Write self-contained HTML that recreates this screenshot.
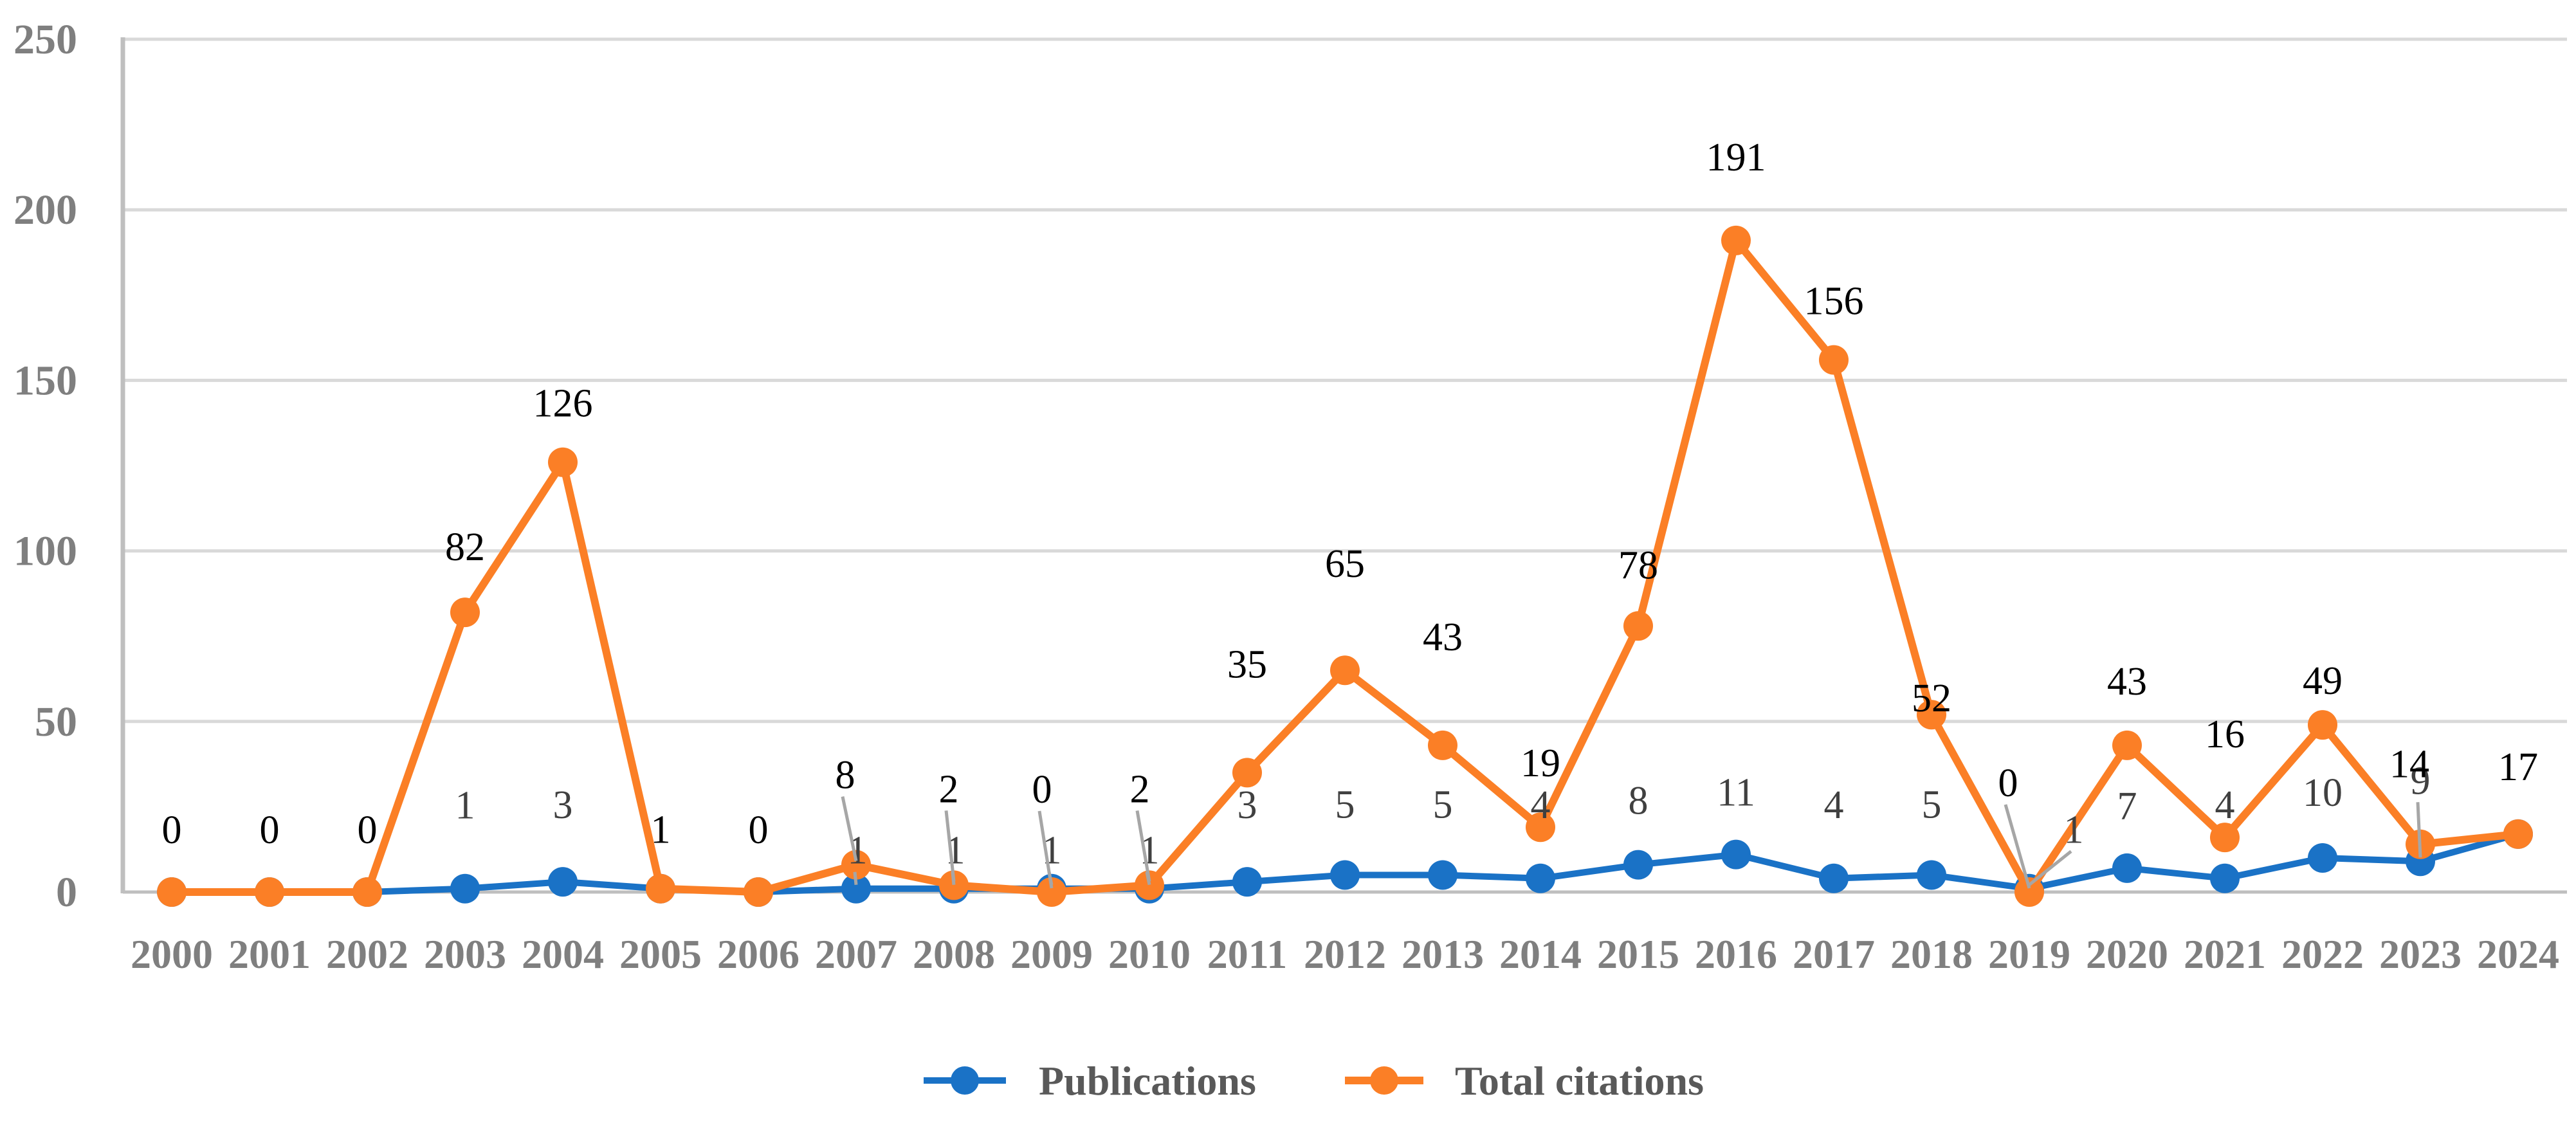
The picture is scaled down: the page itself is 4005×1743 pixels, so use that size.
<!DOCTYPE html>
<html><head><meta charset="utf-8"><style>
html,body{margin:0;padding:0;background:#fff;}
svg{display:block;}
</style></head><body>
<svg id="chart" width="4005" height="1743" viewBox="0 0 4005 1743" xmlns="http://www.w3.org/2000/svg">
<g id="grid"></g>
<g id="yaxis"></g>
<g id="xaxis"></g>
<g id="series"></g>
<g id="labels"></g>
<g id="legend">
  <g>
    <line x1="1436" y1="1680" x2="1564" y2="1680" stroke="#1A72C6" stroke-width="10"/>
    <circle cx="1500" cy="1680" r="22" fill="#1A72C6"/>
    <text x="1615" y="1702" font-family="Liberation Serif, serif" font-weight="bold" font-size="64" fill="#595959">Publications</text>
  </g>
  <g>
    <line x1="2091" y1="1680" x2="2213" y2="1680" stroke="#FB7F26" stroke-width="12"/>
    <circle cx="2152" cy="1680" r="22" fill="#FB7F26"/>
    <text x="2262" y="1702" font-family="Liberation Serif, serif" font-weight="bold" font-size="64" fill="#595959">Total citations</text>
  </g>
</g>
</svg>
<script>
const years = ['2000','2001','2002','2003','2004','2005','2006','2007','2008','2009','2010','2011','2012','2013','2014','2015','2016','2017','2018','2019','2020','2021','2022','2023','2024'];
const publications = [0,0,0,1,3,1,0,1,1,1,1,3,5,5,4,8,11,4,5,1,7,4,10,9,17];
const citations = [0,0,0,82,126,1,0,8,2,0,2,35,65,43,19,78,191,156,52,0,43,16,49,14,17];
const yTicks = [0,50,100,150,200,250];

// label layout offsets (px) relative to each point
const citDx = [0,0,0,0,0,0,0,-17,-8,-15,-15,0,0,0,0,0,0,0,0,-33,0,0,0,-17,0];
const citDy = [-97,-97,-97,-102,-92,-92,-97,-140,-150,-160,-150,-169,-166,-169,-100,-95,-130,-92,-26,-170,-100,-161,-69,-125,-105];
const pubDx = [0,0,0,0,0,0,0,2,2,0,0,0,0,0,0,0,0,0,0,69,0,0,0,0,0];
const pubDy = [null,null,null,-130,-120,-92,null,-60,-60,-60,-60,-120,-110,-110,-115,-100,-97,-115,-110,-92,-97,-115,-102,-126,-105];
const pubLeader = [7,8,9,10,19,23];
const citLeader = [7,8,9,10,19];

const NS='http://www.w3.org/2000/svg';
const X0=267, STEP=152, Y0=1387, YTOP=61, YMAX=250, LEFT=191, RIGHT=3991;
function xs(i){return X0+STEP*i;}
function ys(v){return Y0-(Y0-YTOP)*v/YMAX;}
function mk(tag,attrs,parent){const e=document.createElementNS(NS,tag);for(const k in attrs)e.setAttribute(k,attrs[k]);parent.appendChild(e);return e;}

const grid=document.getElementById('grid');
const yaxis=document.getElementById('yaxis');
yTicks.forEach(t=>{
  if(t>0){const l=mk('line',{x1:LEFT,x2:RIGHT,y1:ys(t),y2:ys(t),stroke:'#d9d9d9','stroke-width':5},grid);
  
  }
  const tx=mk('text',{x:120,y:ys(t)+22,'text-anchor':'end','font-family':'Liberation Serif, serif','font-weight':'bold','font-size':66,fill:'#7f7f7f'},yaxis);
  tx.textContent=t;
  
  
});
const axl=mk('line',{x1:LEFT,x2:LEFT,y1:YTOP-3,y2:Y0+2,stroke:'#bfbfbf','stroke-width':7},yaxis);


const xaxis=document.getElementById('xaxis');
const axb=mk('line',{x1:LEFT,x2:RIGHT,y1:Y0,y2:Y0,stroke:'#bfbfbf','stroke-width':5},xaxis);


years.forEach((y,i)=>{
  const t=mk('text',{x:xs(i),y:1505,'text-anchor':'middle','font-family':'Liberation Serif, serif','font-weight':'bold','font-size':64,fill:'#7f7f7f'},xaxis);
  t.textContent=y;
  
  
});

const series=document.getElementById('series');
function drawSeries(vals,color,w,name){
  const g=mk('g',{},series);
  
  
  const pts=vals.map((v,i)=>xs(i)+','+ys(v)).join(' ');
  const pl=mk('polyline',{points:pts,fill:'none',stroke:color,'stroke-width':w,'stroke-linejoin':'round'},g);
  
  
  vals.forEach((v,i)=>{
    const c=mk('circle',{cx:xs(i),cy:ys(v),r:23,fill:color},g);
    
    
  });
}
drawSeries(publications,'#1A72C6',10,'publications');
drawSeries(citations,'#FB7F26',12,'citations');

const labels=document.getElementById('labels');
function label(vals,dx,dy,color,leaders,name){
  vals.forEach((v,i)=>{
    if(dy[i]===null)return;
    const lx=xs(i)+dx[i], ly=ys(v)+dy[i];
    if(leaders.indexOf(i)>=0){
      const ln=mk('line',{x1:lx-4,y1:ly+34,x2:xs(i),y2:ys(v)-6,stroke:'#a6a6a6','stroke-width':5},labels);
      
      
    }
    const t=mk('text',{x:lx,y:ly+21,'text-anchor':'middle','font-family':'Liberation Serif, serif','font-size':62,fill:color},labels);
    t.textContent=v;
    
    
  });
}
label(publications,pubDx,pubDy,'#404040',pubLeader,'publications');
label(citations,citDx,citDy,'#000000',citLeader,'citations');
</script>
</body></html>
